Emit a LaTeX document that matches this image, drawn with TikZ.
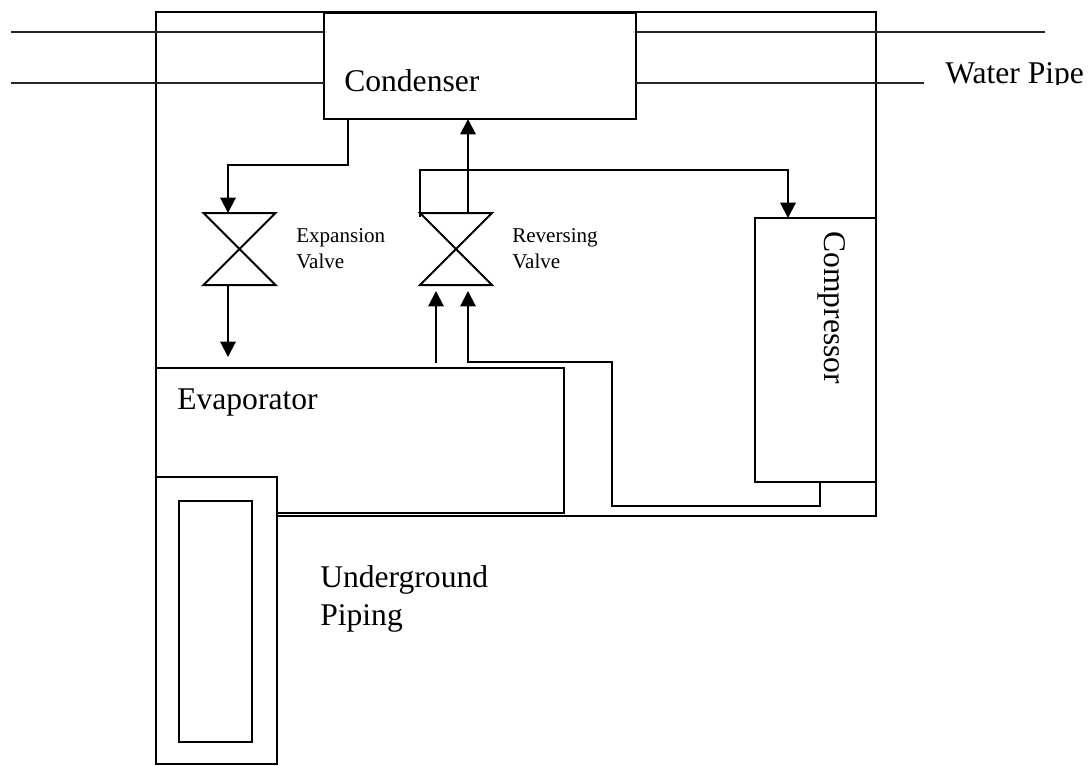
\documentclass[tikz,border=0pt]{standalone}
\usepackage{fontspec}
\setmainfont{Liberation Serif}
\usetikzlibrary{positioning, arrows.meta, calc}
\newcommand{\px}{0.75pt}
\begin{document}
\begin{tikzpicture}[x=\px,y=-\px,line join=miter]
  \tikzset{
    unitbox/.style={draw,line width=1.5pt,fill=white,inner sep=0pt,outer sep=0pt,anchor=north west},
    valvebox/.style={inner sep=0pt,outer sep=0pt,minimum width=72*\px,minimum height=72*\px},
    biglabel/.style={inner sep=0pt,anchor=base west,align=left,font=\fontsize{23.7}{28}\selectfont},
    smalllabel/.style={inner sep=0pt,anchor=base west,align=left,font=\fontsize{15.8}{19.5}\selectfont},
    flow/.style={line width=1.5pt,-{Triangle[length=11.5pt,width=11.5pt]}},
    plainpipe/.style={line width=1.5pt},
    waterpipe/.style={line width=1.5pt,black!85}
  }
  \useasboundingbox (0,0) rectangle (1089,765);
  % boxes
  \node[unitbox,fill=none,minimum width=720*\px,minimum height=504*\px] (frame) at (156,12) {};
  \node[unitbox,minimum width=408*\px,minimum height=145*\px] (evaporator) at (156,368) {};
  \node[unitbox,minimum width=121*\px,minimum height=287*\px] (ground) at (156,477) {};
  \node[unitbox,minimum width=73*\px,minimum height=241*\px] (groundin) at (179,501) {};
  \node[unitbox,minimum width=312*\px,minimum height=106*\px] (condenser) at (324,13) {};
  \node[unitbox,minimum width=121*\px,minimum height=264*\px] (compressor) at (755,218) {};
  % valves
  \node[valvebox] (expvalve) at (239.5,249) {};
  \node[valvebox] (revvalve) at (456,249) {};
  \foreach \v in {expvalve,revvalve}
    \draw[plainpipe] (\v.north west) -- (\v.south east) -- (\v.south west) -- (\v.north east) -- cycle;
  % free ends
  \coordinate (pipeA) at (11,32);
  \coordinate (pipeB) at (11,83);
  \coordinate (pipeC) at (1045,32);
  \coordinate (pipeD) at (924,83);
  \coordinate (condout) at (348,119);
  \coordinate (expin) at (228,213);
  \coordinate (expout) at (228,285);
  \coordinate (evapin) at (228,357);
  \coordinate (revtop) at (468,213);
  \coordinate (condin) at (468,119);
  \coordinate (revloop) at (420,217);
  \coordinate (compin) at (788,218);
  \coordinate (evapout) at (436,363);
  \coordinate (revinA) at (436,291);
  \coordinate (revinB) at (468,291);
  \coordinate (compout) at (820,482);
  % water pipes
  \draw[waterpipe] (pipeA) -- (pipeA -| condenser.west);
  \draw[waterpipe] (pipeB) -- (pipeB -| condenser.west);
  \draw[waterpipe] (pipeC) -- (pipeC -| condenser.east);
  \draw[waterpipe] (pipeD) -- (pipeD -| condenser.east);
  % refrigerant lines
  \draw[flow] (condout) -- ++(0,46) -| (expin);
  \draw[flow] (expout) -- (evapin);
  \draw[flow] (revtop) -- (condin);
  \draw[flow] (revloop) |- (468,170) -| (compin);
  \draw[flow] (evapout) -- (revinA);
  \draw[flow] (compout) -- ++(0,24) -| (612,362) -| (revinB);
  % labels
  \node[biglabel] (condlabel) at (344,91) {Condenser};
  \node[biglabel] (evaplabel) at (177,409) {Evaporator};
  \node[biglabel] (groundlabel) at (320,625) {Underground\\Piping};
  \node[biglabel,rotate=-90] (complabel) at (824,231) {Compressor};
  \node[smalllabel] (explabel) at (296,268) {Expansion\\Valve};
  \node[smalllabel] (revlabel) at (512,268) {Reversing\\Valve};
  \begin{scope}
    \clip (940,50) rectangle (1089,84);
    \node[biglabel] (waterlabel) at (945,83) {Water Pipe};
  \end{scope}
\end{tikzpicture}
\end{document}
